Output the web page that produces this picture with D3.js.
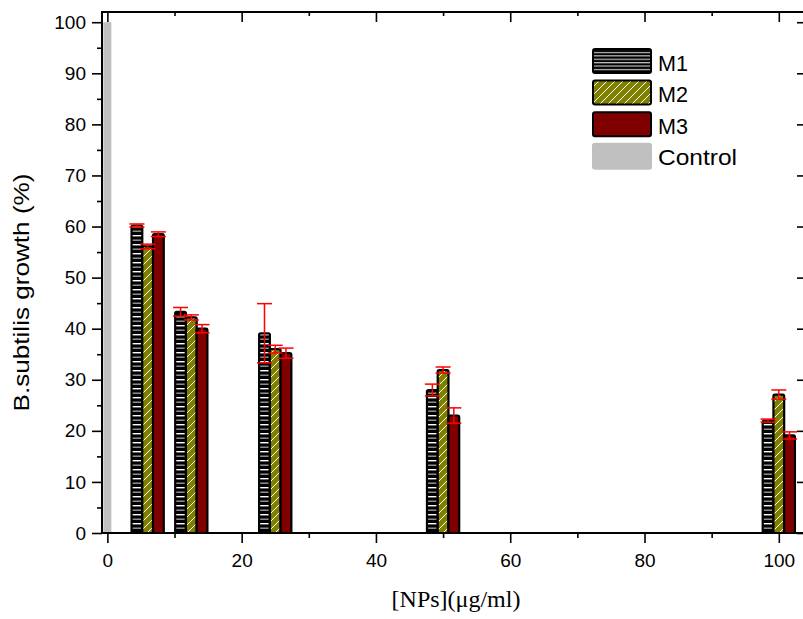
<!DOCTYPE html>
<html>
<head>
<meta charset="utf-8">
<script src="https://cdn.jsdelivr.net/npm/d3@7"></script>
<style>
  html, body { margin: 0; padding: 0; background: #fff; }
  svg { display: block; }
  .sans { font-family: "Liberation Sans", Arial, sans-serif; }
  .serif { font-family: "Liberation Serif", "Times New Roman", serif; }
</style>
</head>
<body>
<svg id="chart" width="803" height="619"></svg>
<script>
// Nanoparticle concentrations (µg/ml) and B. subtilis growth (%) per material
const doses = [6, 12.5, 25, 50, 100];
const seriesNames = ["M1", "M2", "M3"];
const m1 = [60.2, 43.3, 39.1, 28.0, 22.0];
const m2 = [56.1, 42.2, 36.0, 31.9, 27.1];
const m3 = [58.5, 40.0, 35.2, 23.0, 19.1];
const m1Err = [0.3, 0.85, 5.8, 1.15, 0.3];
const m2Err = [0.45, 0.5, 0.75, 0.6, 0.9];
const m3Err = [0.45, 0.8, 1.0, 1.5, 0.7];
const controlDose = [0];
const controlValue = [100];
const xTicks = [0, 20, 40, 60, 80, 100];
const xMinorTicks = [10, 30, 50, 70, 90];
const yTicks = [0, 10, 20, 30, 40, 50, 60, 70, 80, 90, 100];
const yMinorTicks = [5, 15, 25, 35, 45, 55, 65, 75, 85, 95];
const legendLabels = ["M1", "M2", "M3", "Control"];

const svg = d3.select("#chart");
const plotLeft = 102, plotRight = 807, plotTop = 12, plotBottom = 533;

const x = d3.scaleLinear().domain([-0.8, 104.2]).range([plotLeft, plotRight]);
const y = d3.scaleLinear().domain([0, 102]).range([plotBottom, plotTop]);

// patterns
const defs = svg.append("defs");
const pStripe = defs.append("pattern").attr("id", "stripes")
  .attr("patternUnits", "userSpaceOnUse").attr("width", 20).attr("height", 9);
pStripe.append("rect").attr("width", 20).attr("height", 9).attr("fill", "#000");
pStripe.append("rect").attr("y", 1).attr("width", 20).attr("height", 1.4).attr("fill", "#ffffff");
pStripe.append("rect").attr("y", 5.5).attr("width", 20).attr("height", 1.4).attr("fill", "#9a9a9a");

const pLeg = defs.append("pattern").attr("id", "stripesLeg")
  .attr("patternUnits", "userSpaceOnUse").attr("width", 20).attr("height", 3.4);
pLeg.append("rect").attr("width", 20).attr("height", 3.4).attr("fill", "#000");
pLeg.append("rect").attr("y", 1).attr("width", 20).attr("height", 1).attr("fill", "#e8e8e8");

const pHatch = defs.append("pattern").attr("id", "hatch")
  .attr("patternUnits", "userSpaceOnUse").attr("width", 8).attr("height", 8);
pHatch.append("rect").attr("width", 8).attr("height", 8).attr("fill", "#808000");
pHatch.append("path").attr("d", "M-2,10 L10,-2 M-2,2 L2,-2 M6,10 L10,6")
  .attr("stroke", "#ffffff").attr("stroke-width", 1);

defs.append("clipPath").attr("id", "plotClip").append("rect")
  .attr("x", plotLeft + 1).attr("y", plotTop).attr("width", plotRight - plotLeft).attr("height", plotBottom - plotTop);

const fills = ["url(#stripes)", "url(#hatch)", "#800000"];
const legFills = ["url(#stripesLeg)", "url(#hatch)", "#800000"];
const values = [m1, m2, m3];
const errs = [m1Err, m2Err, m3Err];

const plot = svg.append("g").attr("clip-path", "url(#plotClip)");

// control bar
const ctrlW = 8;
plot.selectAll("rect.ctrl").data(controlDose).join("rect")
  .attr("class", "ctrl")
  .attr("x", (d) => x(d) - ctrlW / 2)
  .attr("y", (d, i) => y(controlValue[i]))
  .attr("width", ctrlW)
  .attr("height", (d, i) => y(0) - y(controlValue[i]))
  .attr("fill", "#c0c0c0");

// grouped bars
const pitch = 1.6;                       // offset between bars, in dose units
const barW = x(pitch) - x(0);
seriesNames.forEach((name, s) => {
  const g = plot.append("g");
  g.selectAll("rect").data(doses).join("rect")
    .attr("x", (d) => x(d + (s - 1) * pitch) - barW / 2)
    .attr("y", (d, i) => y(values[s][i]))
    .attr("width", barW)
    .attr("height", (d, i) => y(0) - y(values[s][i]))
    .attr("rx", 1.5)
    .attr("fill", fills[s])
    .attr("stroke", "#000")
    .attr("stroke-width", 2.2);
});

// error bars
const capW = 15;
seriesNames.forEach((name, s) => {
  const g = plot.append("g").attr("stroke", "#ff0000").attr("stroke-width", 1.5).attr("fill", "none");
  doses.forEach((d, i) => {
    const cx = x(d + (s - 1) * pitch);
    const hi = y(values[s][i] + errs[s][i]);
    const lo = y(values[s][i] - errs[s][i]);
    g.append("line").attr("x1", cx).attr("x2", cx).attr("y1", hi).attr("y2", lo);
    g.append("line").attr("x1", cx - capW / 2).attr("x2", cx + capW / 2).attr("y1", hi).attr("y2", hi);
    g.append("line").attr("x1", cx - capW / 2).attr("x2", cx + capW / 2).attr("y1", lo).attr("y2", lo);
  });
});

// axes
function styleAxis(g) {
  g.select(".domain").remove();
  g.selectAll(".tick line").attr("stroke", "#000").attr("stroke-width", 1.6);
  g.selectAll(".tick text").attr("class", "sans").attr("font-size", 19).attr("fill", "#000");
}

const xAxis = svg.append("g").attr("transform", `translate(0,${plotBottom})`)
  .call(d3.axisBottom(x).tickValues(xTicks).tickSize(10).tickPadding(10).tickFormat(d3.format("d")))
  .call(styleAxis);
xAxis.selectAll(".tick text").attr("dy", "0.71em").attr("y", 21);
svg.append("g").attr("transform", `translate(0,${plotBottom})`)
  .call(d3.axisBottom(x).tickValues(xMinorTicks).tickSize(5).tickFormat(""))
  .call(styleAxis);

svg.append("g").attr("transform", `translate(0,${plotTop})`)
  .call(d3.axisBottom(x).tickValues(xTicks).tickSize(10).tickFormat(""))
  .call(styleAxis);
svg.append("g").attr("transform", `translate(0,${plotTop})`)
  .call(d3.axisBottom(x).tickValues(xMinorTicks).tickSize(4).tickFormat(""))
  .call(styleAxis);

svg.append("g").attr("transform", `translate(${plotLeft},0)`)
  .call(d3.axisLeft(y).tickValues(yTicks).tickSize(10).tickPadding(6).tickFormat(d3.format("d")))
  .call(styleAxis);
svg.append("g").attr("transform", `translate(${plotLeft},0)`)
  .call(d3.axisLeft(y).tickValues(yMinorTicks).tickSize(5).tickFormat(""))
  .call(styleAxis);

svg.append("g").attr("transform", `translate(${plotRight},0)`)
  .call(d3.axisLeft(y).tickValues(yTicks).tickSize(10).tickFormat(""))
  .call(styleAxis);
svg.append("g").attr("transform", `translate(${plotRight},0)`)
  .call(d3.axisLeft(y).tickValues(yMinorTicks).tickSize(4).tickFormat(""))
  .call(styleAxis);

// frame
svg.append("rect").attr("x", plotLeft).attr("y", plotTop)
  .attr("width", plotRight - plotLeft).attr("height", plotBottom - plotTop)
  .attr("fill", "none").attr("stroke", "#000").attr("stroke-width", 2);

// axis titles
svg.append("text").attr("class", "sans")
  .attr("transform", "translate(29,292.5) rotate(-90)")
  .attr("text-anchor", "middle").attr("font-size", 21.5)
  .attr("textLength", 238).attr("lengthAdjust", "spacingAndGlyphs")
  .text("B.subtilis growth (%)");

svg.append("text").attr("class", "serif")
  .attr("x", 456).attr("y", 606.5)
  .attr("text-anchor", "middle").attr("font-size", 24)
  .text("[NPs](μg/ml)");

// legend
const legX = 593, legY = 49, legStep = 31.6;
const legWidths = [30, 30, 30, 79];
const leg = svg.append("g");
legendLabels.forEach((lab, i) => {
  const yy = legY + i * legStep;
  if (i < 3) {
    leg.append("rect").attr("x", legX).attr("y", yy).attr("width", 58).attr("height", 24)
      .attr("rx", 2).attr("fill", legFills[i]).attr("stroke", "#000").attr("stroke-width", 2);
  } else {
    leg.append("rect").attr("x", legX - 1).attr("y", yy - 1).attr("width", 60).attr("height", 27)
      .attr("rx", 3).attr("fill", "#c0c0c0");
  }
  leg.append("text").attr("class", "sans").attr("x", 658).attr("y", yy + 21.5)
    .attr("font-size", 22)
    .attr("textLength", legWidths[i]).attr("lengthAdjust", "spacingAndGlyphs")
    .text(lab);
});
</script>
</body>
</html>
